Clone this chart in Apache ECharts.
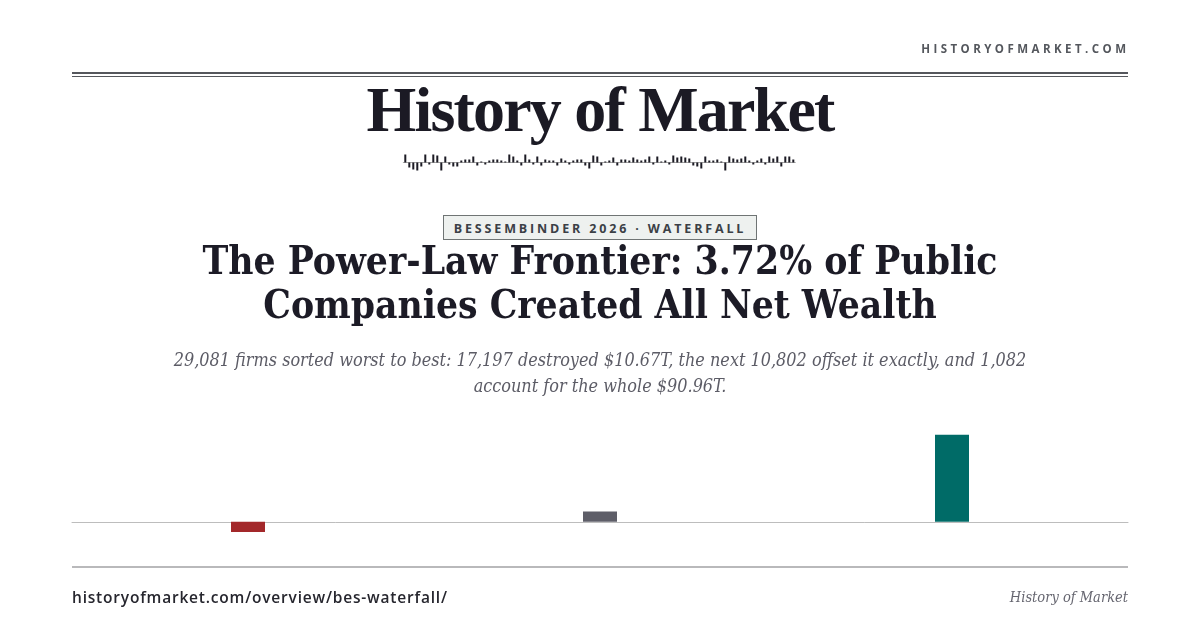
<!DOCTYPE html>
<html>
<head>
<meta charset="utf-8">
<script src="https://cdn.jsdelivr.net/npm/echarts@6/dist/echarts.min.js"></script>
<style>
  html, body { margin: 0; padding: 0; background: #ffffff; }
  #page { position: relative; width: 1200px; height: 630px; overflow: hidden; background: #fff; }
  #chart { position: absolute; left: 0; top: 0; width: 1200px; height: 630px; }
  .t { position: absolute; white-space: nowrap; pointer-events: none; }
  #site { right: 72px; top: 41px; font-family: "Open Sans", sans-serif; font-weight: 700; font-size: 11.5px; letter-spacing: 3.45px; color: #54575d; margin-right: -1.45px; }
  .rule { position: absolute; left: 72px; width: 1056px; background: #55575c; }
  #logo { left: 0; width: 1200px; text-align: center; top: 73px; font-family: "Liberation Serif", serif; font-weight: 700; font-size: 64px; color: #1b1a24; letter-spacing: -1.8px; }
  #badge { left: 443px; top: 215px; width: 312px; height: 23px; border: 1px solid #6f7474; background: #eef1ef; box-sizing: content-box; text-align: center; font-family: "Open Sans", sans-serif; font-weight: 700; font-size: 12.5px; letter-spacing: 2.85px; line-height: 25px; color: #3b4046; }
  #title { left: 0; width: 1200px; text-align: center; top: 239px; font-family: "DejaVu Serif Condensed", "DejaVu Serif", serif; font-weight: 700; font-size: 38.6px; line-height: 44px; color: #1c1b26; }
  #sub { left: 0; width: 1200px; text-align: center; top: 347px; font-family: "DejaVu Serif Condensed", "DejaVu Serif", serif; font-style: italic; font-size: 17.9px; line-height: 26px; color: #5c5c66; }
  #foot { left: 72px; top: 586px; font-family: "Open Sans", sans-serif; font-weight: 600; font-size: 15.5px; letter-spacing: 0.8px; color: #26262e; }
  #footr { right: 72px; top: 589px; font-family: "DejaVu Serif Condensed", "DejaVu Serif", serif; font-style: italic; font-size: 14.5px; color: #666670; }
</style>
</head>
<body>
<div id="page">
  <div id="chart"></div>
  <div class="t" id="site">HISTORYOFMARKET.COM</div>
  <div class="rule" style="top:72px;height:2px;"></div>
  <div class="rule" style="top:76px;height:1px;"></div>
  <div class="t" id="logo">History of Market</div>
  <div class="t" id="badge">BESSEMBINDER 2026 · WATERFALL</div>
  <div class="t" id="title">The Power-Law Frontier: 3.72% of Public<br>Companies Created All Net Wealth</div>
  <div class="t" id="sub">29,081 firms sorted worst to best: 17,197 destroyed $10.67T, the next 10,802 offset it exactly, and 1,082<br>account for the whole $90.96T.</div>
  <div class="rule" style="top:566px;height:2px;background:#b9b9bb;"></div>
  <div class="t" id="foot">historyofmarket.com/overview/bes-waterfall/</div>
  <div class="t" id="footr">History of Market</div>
</div>
<script>
// Main waterfall data (trillions of USD)
const categories = ['Destroyed wealth (17,197 firms)', 'Offsetting firms (10,802 firms)', 'Net wealth creators (1,082 firms)'];
const values = [-10.67, 10.67, 90.96];
const barColors = ['#a3282a', '#5e5e68', '#006b67'];

// Decorative sparkline under the logo
const sparkValues = [
  8,-5,-7,-8,-4,8,-2,8,7,-8,6,-2,-4,-4,2,3,3,6,-3,1,-2,2,3,3,2,
  1,8,6,2,-3,8,3,-2,6,-3,3,2,2,-3,4,2,-2,2,3,3,-3,-6,7,6,
  -3,1,2,5,-3,3,3,2,5,3,2,3,6,-2,6,1,2,-2,7,5,6,5,4,-3,
  -4,-6,6,2,2,3,1,-8,6,4,3,4,6,2,-2,2,4,-2,6,4,6,-4,6,6,3
];
const sparkCategories = sparkValues.map((_, i) => 'b' + i);

const chart = echarts.init(document.getElementById('chart'), null, { renderer: 'canvas' });
chart.setOption({
  animation: false,
  grid: [
    { left: 72, width: 1056, top: 426, height: 124.5 },
    { left: 403.3, width: 392, top: 153.5, height: 18 }
  ],
  xAxis: [
    {
      type: 'category', gridIndex: 0, data: categories,
      axisLine: { show: true, lineStyle: { color: '#bdbdbd', width: 1 } },
      axisTick: { show: false }, axisLabel: { show: false }
    },
    {
      type: 'category', gridIndex: 1, data: sparkCategories,
      axisLine: { show: true, lineStyle: { color: '#a8a8a8', width: 1 } },
      axisTick: { show: false }, axisLabel: { show: false }
    }
  ],
  yAxis: [
    { type: 'value', gridIndex: 0, min: -30, max: 100, show: false, splitLine: { show: false } },
    { type: 'value', gridIndex: 1, min: -9, max: 9, show: false, splitLine: { show: false } }
  ],
  series: [
    {
      type: 'bar', xAxisIndex: 0, yAxisIndex: 0, data: values, barWidth: 34,
      itemStyle: { color: (p) => barColors[p.dataIndex] }
    },
    {
      type: 'bar', xAxisIndex: 1, yAxisIndex: 1, data: sparkValues, barWidth: 2,
      itemStyle: { color: '#1c1b24' }
    }
  ]
});
</script>
</body>
</html>
